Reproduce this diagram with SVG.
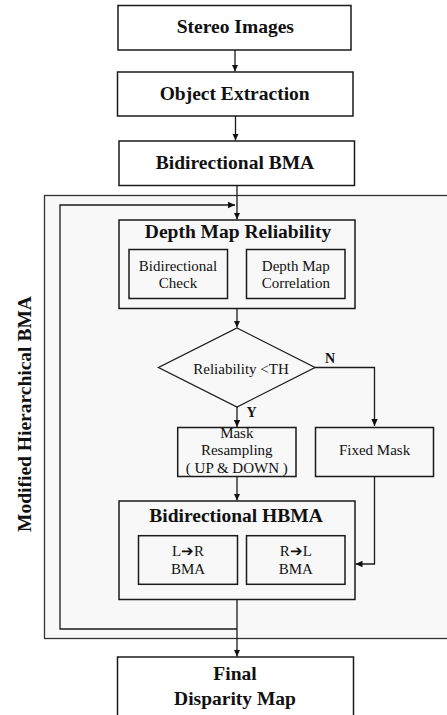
<svg xmlns="http://www.w3.org/2000/svg" width="447" height="715" viewBox="0 0 447 715" font-family="'Liberation Serif', 'DejaVu Serif', serif">
<defs>
<style>
.box{fill:#ffffff;stroke:#1a1a1a;stroke-width:1.5}
.ibox{fill:#f8f8f8;stroke:#1a1a1a;stroke-width:1.5}
.ln{fill:none;stroke:#1a1a1a;stroke-width:1.3}
text{font-family:'Liberation Serif','DejaVu Serif',serif}
.tb{font-weight:bold;font-size:19.5px;fill:#111;text-anchor:middle}
.tn{font-size:15px;fill:#111;text-anchor:middle}
.lb{font-weight:bold;font-size:14px;fill:#111}
</style>
<marker id="ah" markerUnits="userSpaceOnUse" markerWidth="8" markerHeight="8" refX="7" refY="4" orient="auto">
<path d="M0,0.8 L7,4 L0,7.2 Z" fill="#111"/>
</marker>
</defs>
<rect x="0" y="0" width="447" height="715" fill="#ffffff"/>
<g id="region">
<rect x="44.5" y="195.5" width="404" height="443" fill="#f8f8f8" stroke="#333" stroke-width="1.3"/>
<text class="tb" transform="translate(31,414) rotate(-90)">Modified Hierarchical BMA</text>
</g>
<g id="connectors">
<path class="ln" d="M235,50 V71.5" marker-end="url(#ah)"/>
<path class="ln" d="M235.5,116 V140.5" marker-end="url(#ah)"/>
<path class="ln" d="M237,185 V219.5" marker-end="url(#ah)"/>
<path class="ln" d="M237,629 H60 V205 H235" marker-end="url(#ah)"/>
<path class="ln" d="M237,308 V327.5" marker-end="url(#ah)"/>
<path class="ln" d="M237,407 V427" marker-end="url(#ah)"/>
<path class="ln" d="M315,367.5 H374.5 V426" marker-end="url(#ah)"/>
<path class="ln" d="M237,476.5 V500.5" marker-end="url(#ah)"/>
<path class="ln" d="M374.5,476.5 V564 H355.5" marker-end="url(#ah)"/>
<path class="ln" d="M237,599.5 V656.5" marker-end="url(#ah)"/>
<text class="lb" x="325" y="363">N</text>
<text class="lb" x="246.5" y="417">Y</text>
</g>
<g id="stereo">
<rect class="box" x="118" y="5.5" width="233" height="44.5"/>
<text class="tb" x="235.3" y="32.5">Stereo Images</text>
</g>
<g id="object">
<rect class="box" x="117.5" y="72" width="235.5" height="44"/>
<text class="tb" x="234.7" y="100">Object Extraction</text>
</g>
<g id="bibma">
<rect class="box" x="119" y="141" width="235.5" height="44.5"/>
<text class="tb" x="235" y="168.5">Bidirectional BMA</text>
</g>
<g id="dmr">
<rect class="ibox" x="119" y="220" width="236" height="88.5"/>
<text class="tb" x="238" y="237.5">Depth Map Reliability</text>
<g id="bicheck">
<rect class="ibox" x="129" y="249.5" width="98.5" height="49"/>
<text class="tn" x="178" y="271">Bidirectional</text>
<text class="tn" x="178" y="288">Check</text>
</g>
<g id="dmcorr">
<rect class="ibox" x="246.5" y="249.5" width="98.5" height="49"/>
<text class="tn" x="295.8" y="271">Depth Map</text>
<text class="tn" x="295.8" y="288">Correlation</text>
</g>
</g>
<g id="decision">
<path d="M237,328 L315,367.5 L237,407 L158.5,367.5 Z" fill="#f8f8f8" stroke="#1a1a1a" stroke-width="1.3"/>
<text class="tn" x="241" y="373.5">Reliability &lt;TH</text>
</g>
<g id="mask">
<rect class="ibox" x="177.7" y="427.5" width="118.3" height="49"/>
<text class="tn" x="236.8" y="437.5">Mask</text>
<text class="tn" x="236.8" y="455">Resampling</text>
<text class="tn" x="236.8" y="473">( UP &amp; DOWN )</text>
</g>
<g id="fixed">
<rect class="ibox" x="315.5" y="427.5" width="118" height="49"/>
<text class="tn" x="374.5" y="455">Fixed Mask</text>
</g>
<g id="hbma">
<rect class="ibox" x="119" y="501" width="236" height="98.5"/>
<text class="tb" x="236" y="522">Bidirectional HBMA</text>
<g id="lr">
<rect class="ibox" x="138.5" y="535.7" width="99" height="48.6"/>
<text class="tn" x="188" y="556">L➔R</text>
<text class="tn" x="188" y="574">BMA</text>
</g>
<g id="rl">
<rect class="ibox" x="246.5" y="535.7" width="98.5" height="48.6"/>
<text class="tn" x="295.8" y="556">R➔L</text>
<text class="tn" x="295.8" y="574">BMA</text>
</g>
</g>
<g id="final">
<rect class="box" x="117.5" y="657" width="236" height="65"/>
<text class="tb" x="235" y="679.5">Final</text>
<text class="tb" x="235" y="704.5">Disparity Map</text>
</g>
</svg>
